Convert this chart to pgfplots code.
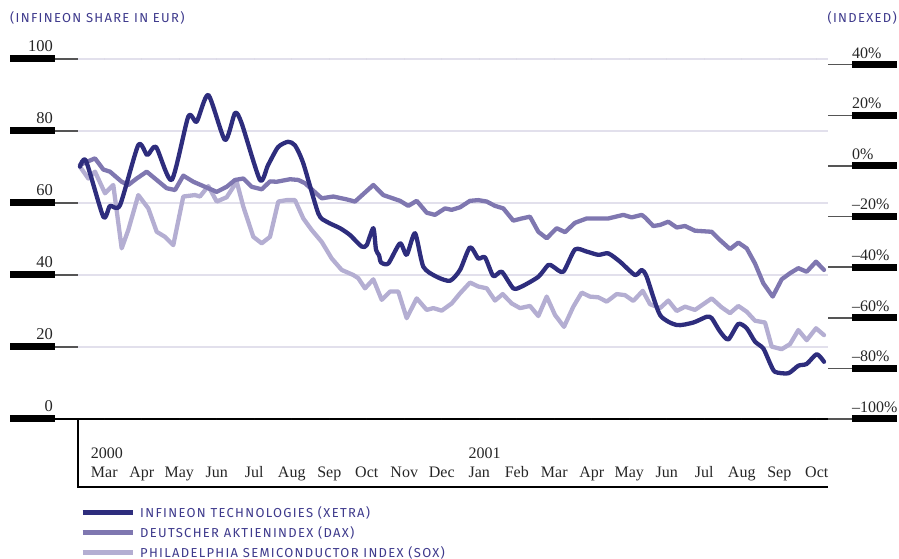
\documentclass[border=0pt]{standalone}
\usepackage{pgfplots}
\pgfplotsset{compat=1.18}
\usepackage{fontspec}
\setmainfont{Liberation Serif}
\newfontfamily\capsfont[LetterSpace=10]{Fira Sans}
\definecolor{infi}{RGB}{46,45,125}
\definecolor{dax}{RGB}{127,119,176}
\definecolor{sox}{RGB}{180,174,210}
\definecolor{titletext}{RGB}{62,58,140}
\definecolor{gridc}{RGB}{226,224,236}
\definecolor{tickc}{RGB}{85,85,85}
\begin{document}
\begin{tikzpicture}[x=1bp,y=1bp]
\useasboundingbox (-78,-140) rectangle (821,419);
% left scale decorations
\foreach \v in {20,40,60,80,100} {
  \draw[gridc, line width=1.5bp] (0,3.6*\v) -- (750,3.6*\v);
  \draw[tickc, line width=1.5bp] (-23,3.6*\v) -- (0,3.6*\v);
}
\foreach \v in {0,20,40,60,80,100} {
  \fill[black] (-68,3.6*\v-3.5) rectangle (-23,3.6*\v+3.5);
  \node[anchor=base east, inner sep=0pt, font=\fontsize{16.5bp}{19bp}\selectfont, text=black!85] at (-25,3.6*\v+7) {\v};
}
\draw[black, line width=1.5bp] (-23,0) -- (774,0);
% right scale decorations
\foreach \y/\lab in {354.3/40\%,303.7/20\%,253.1/0\%,202.5/--20\%,151.8/--40\%,101.2/--60\%,50.6/--80\%,0/--100\%} {
  \draw[tickc, line width=1.5bp] (750,\y) -- (774,\y);
  \fill[black] (774,\y-3.5) rectangle (819,\y+3.5);
  \node[anchor=base west, inner sep=0pt, font=\fontsize{16bp}{19bp}\selectfont, text=black!85] at (774,\y+6.5) {\lab};
}
% box below
\draw[black, line width=1.5bp] (0,0) -- (0,-68) -- (750,-68);
% titles
\node[anchor=west, inner sep=0pt, text=titletext, font=\fontsize{13bp}{15bp}\capsfont] at (-68,401) {(INFINEON SHARE IN EUR)};
\node[anchor=east, inner sep=0pt, text=titletext, font=\fontsize{13bp}{15bp}\capsfont] at (819,401) {(INDEXED)};

\begin{axis}[
  at={(0,0)}, anchor=south west,
  scale only axis, width=750bp, height=360bp,
  xmin=0, xmax=20, ymin=0, ymax=100,
  axis line style={draw=none},
  ytick=\empty,
  major tick length=0pt,
  xtick={0.7,1.7,2.7,3.7,4.7,5.7,6.7,7.7,8.7,9.7,10.7,11.7,12.7,13.7,14.7,15.7,16.7,17.7,18.7,19.7},
  xticklabels={{\makebox[0pt][l]{\raisebox{19bp}{2000}}Mar},Apr,May,Jun,Jul,Aug,Sep,Oct,Nov,Dec,{\makebox[0pt][l]{\raisebox{19bp}{2001}}Jan},Feb,Mar,Apr,May,Jun,Jul,Aug,Sep,Oct},
  xticklabel style={anchor=base, yshift=-59bp, inner sep=0pt, font=\fontsize{16bp}{19bp}\selectfont, text=black!85},
  legend style={at={(axis description cs:0.0027,-0.243)}, anchor=north west, draw=none, fill=none,
    row sep=7.3bp, column sep=5bp, inner sep=0pt,
    font=\fontsize{13bp}{15bp}\capsfont, text=titletext,
    nodes={inner sep=0pt}},
  legend cell align=left,
  legend image code/.code={\draw[#1, line width=5bp, line cap=butt] (0bp,0bp) -- (50bp,0bp);},
  reverse legend,
  line join=round, line cap=round,
]
\addplot[sox, line width=4.3bp] coordinates {
(0.053,70.1)(0.275,66.8)(0.453,68.7)(0.72,62.7)(0.941,65)(1.165,47.4)(1.341,52.5)(1.608,62.2)
(1.875,58.5)(2.099,52)(2.32,50.6)(2.541,48.3)(2.808,61.8)(3.12,62.2)(3.253,61.8)(3.475,64.7)
(3.699,60.4)(3.965,61.6)(4.232,65.9)(4.408,59)(4.675,50.6)(4.899,48.8)(5.12,50.6)(5.341,60.4)
(5.565,60.8)(5.787,60.8)(6.008,55.7)(6.232,52.5)(6.499,49.2)(6.765,44.6)(7.032,41.4)(7.341,40)
(7.475,39.1)(7.653,36.3)(7.875,38.8)(8.099,33.1)(8.32,35.4)(8.541,35.4)(8.765,28)(9.032,33.5)
(9.299,30.3)(9.475,30.8)(9.699,30.1)(9.965,32.1)(10.187,34.9)(10.453,37.9)(10.675,36.8)(10.899,36.3)
(11.12,32.9)(11.325,34.7)(11.565,32.1)(11.787,30.8)(12.053,31.4)(12.275,28.6)(12.499,34)(12.72,28.9)
(12.96,25.6)(13.208,31.2)(13.432,35.1)(13.653,34)(13.875,33.8)(14.099,32.6)(14.365,34.7)(14.587,34.4)
(14.808,32.8)(15.059,35.6)(15.253,31.9)(15.52,30.8)(15.741,32.9)(15.965,30)(16.187,31.2)(16.453,30.3)
(16.899,33.5)(17.165,31)(17.387,29.4)(17.608,31.4)(17.832,29.8)(18.053,27.3)(18.32,26.8)(18.499,20.1)
(18.765,19.4)(18.987,20.8)(19.208,24.7)(19.432,21.9)(19.68,25.2)(19.893,23.3)
};
\addlegendentry{PHILADELPHIA SEMICONDUCTOR INDEX (SOX)}
\addplot[dax, line width=4.3bp] coordinates {
(0.053,70.6)(0.453,72.4)(0.675,69.3)(0.853,68.7)(1.165,65.9)(1.341,65)(1.565,66.8)(1.832,68.7)
(2.099,66.4)(2.365,64.1)(2.587,63.6)(2.808,67.6)(3.075,65.9)(3.341,64.7)(3.699,63.1)(3.965,64.5)
(4.187,66.4)(4.408,66.8)(4.632,64.5)(4.899,63.8)(5.12,66)(5.299,65.9)(5.653,66.6)(5.875,66.4)
(6.053,65.5)(6.499,61.3)(6.808,61.8)(7.165,61)(7.387,60.4)(7.875,65)(8.141,62.2)(8.587,60.6)
(8.808,59.2)(9.032,60.6)(9.299,57.3)(9.52,56.7)(9.787,58.5)(9.965,58.1)(10.187,58.8)(10.453,60.6)
(10.675,60.8)(10.899,60.4)(11.12,59.2)(11.341,58.5)(11.608,55.1)(11.832,55.7)(12.053,56.2)(12.275,52)
(12.499,50.2)(12.765,53)(12.987,51.9)(13.253,54.5)(13.565,55.7)(13.832,55.7)(14.141,55.7)(14.541,56.7)
(14.765,56)(15.032,56.7)(15.12,56)(15.341,53.6)(15.52,53.9)(15.741,54.8)(15.965,53.2)(16.187,53.6)
(16.453,52.3)(16.899,52)(17.12,49.7)(17.387,47.2)(17.608,49)(17.832,47.4)(18.053,43.2)(18.275,37.7)
(18.525,34)(18.765,38.8)(18.987,40.5)(19.208,41.9)(19.432,40.9)(19.68,43.7)(19.893,41.4)
};
\addlegendentry{DEUTSCHER AKTIENINDEX (DAX)}
\addplot[infi, line width=4.3bp, smooth, tension=0.4] coordinates {
(0.053,70.1)(0.213,71.7)(0.675,56.2)(0.853,59.2)(1.12,59.4)(1.608,76.1)(1.848,73.3)(2.08,75.6)
(2.499,66.4)(2.941,84)(3.165,82.6)(3.475,90)(3.92,77.5)(4.187,85)(4.365,82.1)(4.853,66.4)
(5.067,70.5)(5.333,75.5)(5.6,77)(5.787,76)(6.008,71)(6.408,57.1)(6.632,54.8)(6.987,53)
(7.253,51.1)(7.565,47.9)(7.699,48.3)(7.875,53)(7.947,47)(8.027,45.5)(8.08,43.5)(8.275,43.2)
(8.587,48.8)(8.765,45.6)(8.987,51.6)(9.208,42.3)(9.565,39.5)(9.92,38.4)(10.187,41.4)(10.453,47.7)
(10.675,44.6)(10.853,44.9)(11.075,39.7)(11.299,40.9)(11.608,36.3)(11.832,36.8)(12.275,39.5)(12.541,42.8)
(12.675,42.3)(12.941,40.9)(13.253,47.1)(13.565,46.5)(13.875,45.6)(14.141,46)(14.453,43.7)(14.853,40)
(15.032,41.4)(15.165,39.5)(15.52,28.9)(15.965,26.1)(16.408,26.8)(16.765,28.4)(16.899,28)(17.12,24.3)
(17.341,22.1)(17.608,26.4)(17.832,25.2)(18.053,21.5)(18.275,19.6)(18.453,15.5)(18.587,13.1)(18.941,12.7)
(19.208,14.8)(19.432,15.3)(19.699,18)(19.893,15.9)
};
\addlegendentry{INFINEON TECHNOLOGIES (XETRA)}
\end{axis}
\end{tikzpicture}
\end{document}
